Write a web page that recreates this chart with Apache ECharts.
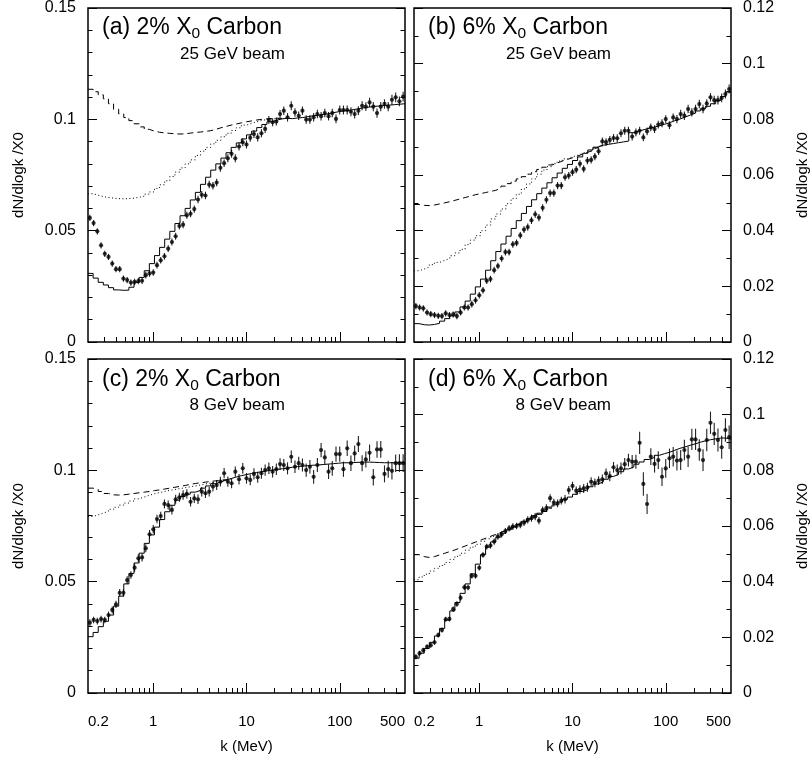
<!DOCTYPE html>
<html><head><meta charset="utf-8">
<script src="https://cdn.jsdelivr.net/npm/echarts@6.0.0/dist/echarts.min.js"></script>
<style>html,body{margin:0;padding:0;background:#fff}#c{width:811px;height:761px}</style>
</head><body><div id="c"></div>
<script>
// ---------- axis definitions ----------
const X_RANGE_K = [0.2, 500];
const X_LABEL_K = [0.2, 1, 10, 100, 500];
const X_MAJOR_K = [1, 10, 100];
const X_MINOR_K = [0.3,0.4,0.5,0.6,0.7,0.8,0.9,2,3,4,5,6,7,8,9,20,30,40,50,60,70,80,90,200,300,400];
const Y_TICKS_2PCT = [0, 0.05, 0.10, 0.15];
const Y_TICKS_6PCT = [0, 0.02, 0.04, 0.06, 0.08, 0.10, 0.12];
const N_DATA_BINS = 85;   // data points, equal bins in log k
const N_MC_BINS = 62;     // simulation histogram bins, equal bins in log k

const panelTitles = ['(a) 2% X{sub|0} Carbon', '(b) 6% X{sub|0} Carbon', '(c) 2% X{sub|0} Carbon', '(d) 6% X{sub|0} Carbon'];
const panelBeams = ['25 GeV beam', '25 GeV beam', '8 GeV beam', '8 GeV beam'];

// ---------- panel (a) ----------
const dataA = [0.0557,0.0534,0.0497,0.0434,0.0396,0.0382,0.0352,0.0327,0.0327,0.0285,
 0.0278,0.0267,0.0270,0.0273,0.0275,0.0300,0.0308,0.0312,0.0345,0.0367,
 0.0385,0.0419,0.0449,0.0475,0.0521,0.0527,0.0569,0.0576,0.0597,0.0640,
 0.0661,0.0658,0.0707,0.0702,0.0716,0.0782,0.0803,0.0825,0.0845,0.0825,
 0.0878,0.0897,0.0887,0.0917,0.0934,0.0919,0.0937,0.0957,0.0997,0.0987,
 0.0990,0.1024,0.1039,0.1009,0.1061,0.1031,0.1016,0.1039,0.0999,0.0999,
 0.1009,0.1024,0.1014,0.1028,0.1014,0.1028,0.1002,0.1042,0.1042,0.1042,
 0.1034,0.1024,0.1039,0.1061,0.1057,0.1076,0.1057,0.1028,0.1057,0.1069,
 0.1057,0.1088,0.1099,0.1081,0.1102];
const errA = [0.0014,0.0014,0.0014,0.0014,0.0014,0.0014,0.0014,0.0014,0.0014,0.0014,
 0.0014,0.0014,0.0014,0.0014,0.0014,0.0015,0.0015,0.0015,0.0015,0.0015,
 0.0015,0.0015,0.0016,0.0016,0.0016,0.0016,0.0016,0.0016,0.0016,0.0017,
 0.0017,0.0017,0.0017,0.0017,0.0017,0.0017,0.0017,0.0018,0.0018,0.0018,
 0.0018,0.0018,0.0018,0.0018,0.0018,0.0018,0.0018,0.0018,0.0018,0.0018,
 0.0018,0.0018,0.0019,0.0019,0.0020,0.0019,0.0019,0.0019,0.0019,0.0019,
 0.0019,0.0019,0.0019,0.0019,0.0019,0.0019,0.0020,0.0020,0.0020,0.0020,
 0.0020,0.0020,0.0020,0.0020,0.0020,0.0021,0.0021,0.0021,0.0021,0.0021,
 0.0021,0.0022,0.0022,0.0022,0.0022];
const histA = [0.0308,0.0287,0.0268,0.0256,0.0244,0.0234,0.0232,0.0233,0.0246,0.0268,
 0.0290,0.0320,0.0352,0.0388,0.0425,0.0462,0.0497,0.0532,0.0567,0.0600,
 0.0638,0.0672,0.0708,0.0740,0.0772,0.0800,0.0826,0.0850,0.0874,0.0894,
 0.0912,0.0930,0.0947,0.0963,0.0977,0.0989,0.0997,0.1002,0.1005,0.1003,
 0.1006,0.1008,0.1012,0.1016,0.1018,0.1022,0.1025,0.1030,0.1034,0.1038,
 0.1040,0.1044,0.1048,0.1052,0.1055,0.1058,0.1060,0.1062,0.1064,0.1066,
 0.1068,0.1070];
const dashA = [0.1135,0.1124,0.1110,0.1092,0.1070,0.1045,0.1024,0.1008,0.0994,0.0980,
 0.0966,0.0955,0.0947,0.0942,0.0939,0.0937,0.0935,0.0934,0.0935,0.0938,
 0.0941,0.0943,0.0946,0.0949,0.0955,0.0962,0.0968,0.0974,0.0979,0.0984,
 0.0989,0.0993,0.0997,0.1000,0.1002,0.1004,0.1005,0.1004];
const dotA = [0.0666,0.0659,0.0653,0.0649,0.0646,0.0644,0.0643,0.0644,0.0646,0.0650,
 0.0655,0.0664,0.0674,0.0690,0.0706,0.0724,0.0743,0.0763,0.0782,0.0800,
 0.0818,0.0838,0.0857,0.0874,0.0890,0.0906,0.0922,0.0937,0.0950,0.0962,
 0.0974,0.0982,0.0989,0.0995,0.0999,0.1002,0.1004,0.1004];

// ---------- panel (b) ----------
const dataB = [0.0129,0.0124,0.0121,0.0106,0.0100,0.0097,0.0094,0.0093,0.0103,0.0097,
 0.0099,0.0093,0.0106,0.0124,0.0124,0.0136,0.0150,0.0168,0.0186,0.0220,
 0.0226,0.0258,0.0273,0.0300,0.0323,0.0323,0.0351,0.0356,0.0383,0.0404,
 0.0413,0.0437,0.0459,0.0447,0.0482,0.0511,0.0535,0.0535,0.0562,0.0562,
 0.0592,0.0598,0.0610,0.0619,0.0640,0.0622,0.0652,0.0654,0.0666,0.0685,
 0.0721,0.0718,0.0726,0.0733,0.0732,0.0750,0.0759,0.0759,0.0738,0.0753,
 0.0759,0.0735,0.0757,0.0771,0.0765,0.0781,0.0786,0.0801,0.0779,0.0807,
 0.0801,0.0819,0.0813,0.0837,0.0825,0.0837,0.0855,0.0837,0.0857,0.0879,
 0.0869,0.0869,0.0877,0.0891,0.0909];
const errB = [0.0011,0.0011,0.0011,0.0011,0.0011,0.0011,0.0011,0.0011,0.0011,0.0011,
 0.0011,0.0011,0.0011,0.0011,0.0011,0.0012,0.0012,0.0012,0.0012,0.0012,
 0.0012,0.0012,0.0012,0.0012,0.0012,0.0012,0.0012,0.0012,0.0012,0.0012,
 0.0013,0.0013,0.0013,0.0013,0.0013,0.0013,0.0013,0.0013,0.0013,0.0013,
 0.0013,0.0013,0.0013,0.0013,0.0013,0.0013,0.0013,0.0013,0.0013,0.0013,
 0.0014,0.0014,0.0014,0.0014,0.0014,0.0014,0.0014,0.0014,0.0014,0.0014,
 0.0014,0.0014,0.0014,0.0014,0.0014,0.0014,0.0014,0.0014,0.0014,0.0014,
 0.0015,0.0015,0.0015,0.0015,0.0015,0.0015,0.0015,0.0015,0.0015,0.0015,
 0.0016,0.0016,0.0016,0.0016,0.0016];
const histB = [0.0066,0.0062,0.0061,0.0063,0.0067,0.0075,0.0084,0.0094,0.0108,0.0126,
 0.0147,0.0172,0.0198,0.0226,0.0258,0.0292,0.0325,0.0352,0.0380,0.0408,
 0.0436,0.0462,0.0487,0.0511,0.0533,0.0553,0.0572,0.0590,0.0607,0.0624,
 0.0638,0.0652,0.0665,0.0678,0.0690,0.0700,0.0707,0.0710,0.0713,0.0716,
 0.0719,0.0722,0.0752,0.0758,0.0763,0.0768,0.0772,0.0777,0.0782,0.0788,
 0.0795,0.0801,0.0808,0.0815,0.0822,0.0830,0.0838,0.0847,0.0856,0.0868,
 0.0882,0.0898];
const dashB = [0.0494,0.0491,0.0490,0.0492,0.0496,0.0500,0.0504,0.0509,0.0514,0.0519,
 0.0524,0.0529,0.0533,0.0537,0.0541,0.0545,0.0552,0.0560,0.0569,0.0578,
 0.0586,0.0594,0.0603,0.0612,0.0620,0.0628,0.0636,0.0643,0.0650,0.0656,
 0.0662,0.0668,0.0675,0.0682,0.0688,0.0697,0.0705];
const dotB = [0.0256,0.0262,0.0269,0.0278,0.0286,0.0293,0.0300,0.0310,0.0320,0.0333,
 0.0350,0.0366,0.0382,0.0400,0.0420,0.0442,0.0460,0.0478,0.0497,0.0515,
 0.0531,0.0550,0.0568,0.0586,0.0603,0.0618,0.0630,0.0641,0.0650,0.0658,
 0.0665,0.0671,0.0677,0.0683,0.0688,0.0696,0.0705];

// ---------- panel (c) ----------
const dataC = [0.0316,0.0328,0.0323,0.0332,0.0328,0.0350,0.0373,0.0398,0.0450,0.0450,
 0.0507,0.0530,0.0563,0.0605,0.0609,0.0650,0.0713,0.0735,0.0781,0.0795,
 0.0849,0.0844,0.0822,0.0870,0.0879,0.0889,0.0894,0.0859,0.0874,0.0870,
 0.0904,0.0897,0.0904,0.0927,0.0934,0.0949,0.0987,0.0949,0.0942,0.0994,
 0.0960,0.1009,0.0964,0.0957,0.0984,0.0969,0.0987,0.1001,0.1009,0.0994,
 0.1005,0.1028,0.1024,0.1009,0.1061,0.1016,0.1032,0.1024,0.1001,0.1016,
 0.0971,0.1024,0.1091,0.1058,0.0994,0.1009,0.1073,0.1073,0.1005,0.1099,
 0.1032,0.1076,0.1118,0.1032,0.1049,0.1079,0.0969,0.1094,0.1094,0.0984,
 0.1005,0.0998,0.1032,0.1032,0.1032];
const errC = [0.0015,0.0015,0.0015,0.0015,0.0015,0.0016,0.0016,0.0016,0.0017,0.0017,
 0.0017,0.0017,0.0018,0.0018,0.0018,0.0018,0.0019,0.0019,0.0019,0.0019,
 0.0020,0.0020,0.0020,0.0020,0.0020,0.0021,0.0021,0.0021,0.0021,0.0021,
 0.0021,0.0021,0.0022,0.0022,0.0022,0.0022,0.0023,0.0023,0.0023,0.0023,
 0.0024,0.0024,0.0024,0.0024,0.0025,0.0025,0.0025,0.0025,0.0026,0.0026,
 0.0026,0.0026,0.0027,0.0027,0.0028,0.0028,0.0029,0.0029,0.0030,0.0030,
 0.0031,0.0031,0.0032,0.0032,0.0033,0.0033,0.0034,0.0034,0.0034,0.0035,
 0.0035,0.0035,0.0036,0.0036,0.0036,0.0037,0.0037,0.0037,0.0038,0.0038,
 0.0038,0.0039,0.0039,0.0040,0.0040];
const histC = [0.0253,0.0272,0.0298,0.0322,0.0350,0.0390,0.0435,0.0490,0.0537,0.0584,
 0.0628,0.0672,0.0710,0.0745,0.0779,0.0814,0.0843,0.0866,0.0882,0.0893,
 0.0902,0.0910,0.0920,0.0930,0.0940,0.0948,0.0956,0.0963,0.0970,0.0976,
 0.0981,0.0986,0.0990,0.0994,0.0998,0.1001,0.1004,0.1007,0.1010,0.1014,
 0.1017,0.1019,0.1021,0.1023,0.1024,0.1026,0.1028,0.1030,0.1032,0.1034,
 0.1034,0.1035,0.1036,0.1037,0.1037,0.1036,0.1035,0.1034,0.1034,0.1034,
 0.1034,0.1034];
const dashC = [0.0920,0.0914,0.0905,0.0896,0.0890,0.0889,0.0890,0.0893,0.0896,0.0899,
 0.0902,0.0905,0.0909,0.0912,0.0916,0.0920,0.0924,0.0928,0.0932,0.0937,
 0.0941,0.0944,0.0947,0.0950,0.0953,0.0956,0.0958,0.0963];
const dotC = [0.0793,0.0800,0.0808,0.0816,0.0825,0.0834,0.0844,0.0853,0.0862,0.0872,
 0.0880,0.0888,0.0895,0.0900,0.0905,0.0910,0.0914,0.0918,0.0922,0.0926,
 0.0930,0.0934,0.0939,0.0943,0.0948,0.0953,0.0956,0.0963];

// ---------- panel (d) ----------
const dataD = [0.0130,0.0143,0.0154,0.0166,0.0172,0.0182,0.0208,0.0226,0.0265,0.0266,
 0.0301,0.0320,0.0342,0.0380,0.0379,0.0421,0.0421,0.0450,0.0496,0.0526,
 0.0530,0.0544,0.0562,0.0570,0.0582,0.0592,0.0598,0.0600,0.0604,0.0612,
 0.0622,0.0628,0.0634,0.0619,0.0657,0.0664,0.0700,0.0684,0.0681,0.0691,
 0.0696,0.0729,0.0744,0.0727,0.0731,0.0735,0.0739,0.0759,0.0755,0.0763,
 0.0768,0.0789,0.0779,0.0811,0.0801,0.0807,0.0822,0.0837,0.0831,0.0831,
 0.0899,0.0751,0.0679,0.0849,0.0823,0.0837,0.0777,0.0807,0.0843,0.0849,
 0.0835,0.0837,0.0873,0.0849,0.0911,0.0911,0.0873,0.0837,0.0909,0.0971,
 0.0931,0.0909,0.0883,0.0945,0.0919];
const errD = [0.0009,0.0009,0.0009,0.0009,0.0009,0.0009,0.0009,0.0009,0.0009,0.0009,
 0.0010,0.0010,0.0010,0.0010,0.0010,0.0010,0.0010,0.0010,0.0010,0.0010,
 0.0011,0.0011,0.0011,0.0011,0.0011,0.0012,0.0012,0.0012,0.0012,0.0012,
 0.0013,0.0013,0.0013,0.0013,0.0013,0.0014,0.0014,0.0014,0.0014,0.0014,
 0.0015,0.0015,0.0015,0.0015,0.0015,0.0016,0.0016,0.0016,0.0016,0.0016,
 0.0017,0.0018,0.0018,0.0019,0.0020,0.0021,0.0022,0.0023,0.0024,0.0025,
 0.0040,0.0042,0.0036,0.0030,0.0031,0.0032,0.0033,0.0034,0.0035,0.0035,
 0.0036,0.0036,0.0037,0.0037,0.0038,0.0038,0.0039,0.0039,0.0040,0.0040,
 0.0040,0.0041,0.0041,0.0042,0.0042];
const histD = [0.0125,0.0143,0.0160,0.0182,0.0205,0.0232,0.0262,0.0295,0.0325,0.0358,
 0.0392,0.0428,0.0463,0.0497,0.0524,0.0543,0.0560,0.0574,0.0586,0.0597,
 0.0606,0.0617,0.0626,0.0637,0.0646,0.0657,0.0668,0.0676,0.0686,0.0696,
 0.0704,0.0714,0.0724,0.0731,0.0741,0.0751,0.0758,0.0768,0.0778,0.0785,
 0.0795,0.0805,0.0812,0.0822,0.0830,0.0839,0.0846,0.0854,0.0860,0.0865,
 0.0872,0.0879,0.0884,0.0890,0.0895,0.0901,0.0906,0.0910,0.0913,0.0916,
 0.0916,0.0912];
const dashD = [0.0497,0.0490,0.0487,0.0490,0.0496,0.0502,0.0508,0.0514,0.0521,0.0528,
 0.0535,0.0542,0.0549,0.0556,0.0563,0.0570,0.0577,0.0584,0.0591,0.0598,
 0.0606,0.0614,0.0623,0.0632,0.0642,0.0652,0.0664];
const dotD = [0.0407,0.0417,0.0427,0.0438,0.0448,0.0458,0.0469,0.0480,0.0491,0.0502,
 0.0513,0.0524,0.0534,0.0545,0.0554,0.0563,0.0572,0.0580,0.0588,0.0597,
 0.0605,0.0614,0.0623,0.0632,0.0642,0.0652,0.0664];

// ---------- build ----------
const FONT = '"Liberation Sans", Arial, Helvetica, sans-serif';
const LOG_MIN = Math.log10(X_RANGE_K[0]);
const LOG_MAX = Math.log10(X_RANGE_K[1]);
const SPAN = LOG_MAX - LOG_MIN;

const panels = [
  {data: dataA, err: errA, hist: histA, dash: dashA, dot: dotA, yTicks: Y_TICKS_2PCT},
  {data: dataB, err: errB, hist: histB, dash: dashB, dot: dotB, yTicks: Y_TICKS_6PCT},
  {data: dataC, err: errC, hist: histC, dash: dashC, dot: dotC, yTicks: Y_TICKS_2PCT},
  {data: dataD, err: errD, hist: histD, dash: dashD, dot: dotD, yTicks: Y_TICKS_6PCT}
];
const layout = [
  {left: 88, top: 7, width: 317, height: 335, labelSide: 'left', bottomRow: false, tx: 102, ty: 27.5, bx: 285, by: 54},
  {left: 414, top: 7, width: 317, height: 335, labelSide: 'right', bottomRow: false, tx: 428, ty: 27.5, bx: 611, by: 54},
  {left: 88, top: 359, width: 317, height: 334, labelSide: 'left', bottomRow: true, tx: 102, ty: 379.5, bx: 285, by: 405},
  {left: 414, top: 359, width: 317, height: 334, labelSide: 'right', bottomRow: true, tx: 428, ty: 379.5, bx: 611, by: 405}
];

function dataCenter(i) { return LOG_MIN + SPAN / N_DATA_BINS * (i + 0.5); }
function mcEdge(j) { return LOG_MIN + SPAN / N_MC_BINS * j; }
function stepPoints(vals) {
  const pts = vals.map((v, j) => [mcEdge(j), v]);
  pts.push([mcEdge(vals.length), vals[vals.length - 1]]);
  return pts;
}

const grids = [], xAxes = [], yAxes = [], series = [], graphics = [];
layout.forEach((L, p) => {
  const P = panels[p];
  grids.push({left: L.left, top: L.top, width: L.width, height: L.height, show: true,
    borderColor: '#000', borderWidth: 1.5, backgroundColor: 'rgba(0,0,0,0)'});
  // major x ticks + labels
  xAxes.push({type: 'value', gridIndex: p, position: 'bottom', min: LOG_MIN, max: LOG_MAX,
    axisLine: {show: false, onZero: false}, splitLine: {show: false},
    axisTick: {show: true, inside: true, length: 10, customValues: X_MAJOR_K.map(Math.log10), lineStyle: {color: '#000', width: 1}},
    axisLabel: {show: L.bottomRow, customValues: X_LABEL_K.map(Math.log10), margin: 21, fontSize: 15, color: '#000', fontFamily: FONT,
      alignMinLabel: 'left', alignMaxLabel: 'right',
      formatter: v => String(+Math.pow(10, v).toPrecision(3))},
    name: L.bottomRow ? 'k (MeV)' : '', nameLocation: 'middle', nameGap: 46,
    nameTextStyle: {fontSize: 15, color: '#000', fontFamily: FONT}});
  // minor x ticks
  xAxes.push({type: 'value', gridIndex: p, position: 'bottom', min: LOG_MIN, max: LOG_MAX,
    axisLine: {show: false, onZero: false}, splitLine: {show: false}, axisLabel: {show: false},
    axisTick: {show: true, inside: true, length: 5, customValues: X_MINOR_K.map(Math.log10), lineStyle: {color: '#000', width: 1}}});
  const t = P.yTicks, step = t[1] - t[0];
  ['left', 'right'].forEach(side => {
    const lab = side === L.labelSide;
    yAxes.push({type: 'value', gridIndex: p, position: side, min: t[0], max: t[t.length - 1], interval: step,
      axisLine: {show: false, onZero: false}, splitLine: {show: false}, minorSplitLine: {show: false},
      axisTick: {show: true, inside: true, length: 9, lineStyle: {color: '#000', width: 1}},
      minorTick: {show: true, splitNumber: Math.round(step / 0.01), length: 4.5, lineStyle: {color: '#000', width: 1}},
      axisLabel: {show: lab, margin: 12, fontSize: 16, color: '#000', fontFamily: FONT},
      name: lab ? 'dN/dlogk /X0' : '', nameLocation: 'middle', nameRotate: 90, nameGap: side === 'left' ? 62 : 64,
      nameTextStyle: {fontSize: 15, color: '#000', fontFamily: FONT}});
  });
  const xi = 2 * p, yi = 2 * p;
  const pts = P.data.map((v, i) => [dataCenter(i), v, P.err[i]]);
  series.push({type: 'custom', xAxisIndex: xi, yAxisIndex: yi, silent: true, data: pts, encode: {x: 0, y: 1},
    renderItem: (params, api) => {
      const x = api.value(0), y = api.value(1), e = api.value(2);
      const a = api.coord([x, y - e]), b = api.coord([x, y + e]);
      return {type: 'line', shape: {x1: a[0], y1: a[1], x2: b[0], y2: b[1]}, style: {stroke: '#222', lineWidth: 1.1}};
    }});
  series.push({type: 'scatter', xAxisIndex: xi, yAxisIndex: yi, silent: true, symbol: 'circle', symbolSize: 4.2,
    itemStyle: {color: '#000'}, data: pts.map(q => [q[0], q[1]])});
  series.push({type: 'line', xAxisIndex: xi, yAxisIndex: yi, silent: true, step: 'end', symbol: 'none',
    lineStyle: {color: '#000', width: 1}, data: stepPoints(P.hist)});
  series.push({type: 'line', xAxisIndex: xi, yAxisIndex: yi, silent: true, step: 'end', symbol: 'none',
    lineStyle: {color: '#000', width: 1, type: [6, 4]}, data: stepPoints(P.dash)});
  series.push({type: 'line', xAxisIndex: xi, yAxisIndex: yi, silent: true, step: 'end', symbol: 'none',
    lineStyle: {color: '#000', width: 1, type: [1, 2.5]}, data: stepPoints(P.dot)});
  graphics.push({type: 'text', x: L.tx, y: L.ty, silent: true, z: 100,
    style: {text: panelTitles[p], fill: '#000', fontSize: 23, fontFamily: FONT, align: 'left', verticalAlign: 'middle',
      rich: {sub: {fontSize: 15.5, fontFamily: FONT, fill: '#000', padding: [12, 0, 0, 0]}}}});
  graphics.push({type: 'text', x: L.bx, y: L.by, silent: true, z: 100,
    style: {text: panelBeams[p], fill: '#000', fontSize: 17, fontFamily: FONT, align: 'right', verticalAlign: 'middle'}});
});

const chart = echarts.init(document.getElementById('c'), null, {renderer: 'canvas'});
chart.setOption({
  animation: false,
  backgroundColor: '#fff',
  textStyle: {fontFamily: FONT},
  grid: grids, xAxis: xAxes, yAxis: yAxes, series: series, graphic: graphics
});
</script>
</body></html>
